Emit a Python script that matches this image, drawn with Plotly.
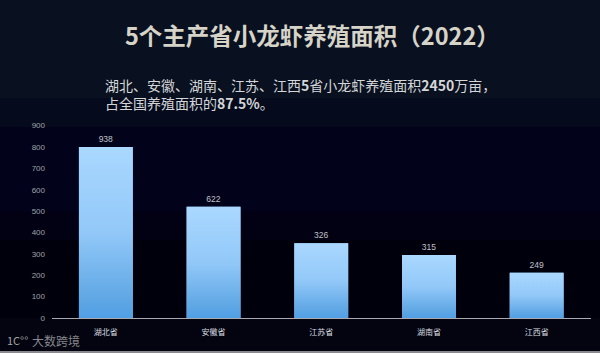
import plotly.graph_objects as go

W, H = 600, 353

provinces = ["湖北省", "安徽省", "江苏省", "湖南省", "江西省"]
bar_heights = [800, 520, 350, 295, 212]
printed_labels = ["938", "622", "326", "315", "249"]
y_ticks = [0, 100, 200, 300, 400, 500, 600, 700, 800, 900]

title_text = "5个主产省小龙虾养殖面积（2022）"
note_lines = ["湖北、安徽、湖南、江苏、江西<b>5</b>省小龙虾养殖面积<b>2450</b>万亩，",
              "占全国养殖面积的<b>87.5%</b>。"]
watermark = "大数跨境"
logo_text = "1C°°"

bg_bands = [
    (0.00, 0.28, "#09101f"), (0.28, 0.36, "#050b1d"), (0.36, 0.60, "#02031a"),
    (0.60, 0.68, "#010113"), (0.68, 0.90, "#00000c"), (0.90, 0.994, "#03040f"),
    (0.994, 1.00, "#8a8a8e"),
]

FONT = "Noto Sans CJK SC, Noto Sans, sans-serif"
NUM_FONT = "Liberation Sans, Arial, sans-serif"
X0, X1 = 52 / W, 590.5 / W
Y0, Y1 = 1 - 318 / H, 1 - 125.6 / H

fig = go.Figure()

# solid bar underneath, carrying the values and their printed labels
fig.add_trace(go.Bar(
    x=list(range(len(provinces))), y=bar_heights, width=0.5,
    marker=dict(color="#8fc6f5", line=dict(width=0)),
    text=printed_labels, textposition="outside", cliponaxis=False,
    textfont=dict(family=NUM_FONT, size=8.5, color="#c0c2c8"),
    hoverinfo="skip", showlegend=False,
))

# vertical gradient laid over each bar
for i, v in enumerate(bar_heights):
    fig.add_trace(go.Scatter(
        x=[i - 0.25, i + 0.25, i + 0.25, i - 0.25, i - 0.25],
        y=[0, 0, v, v, 0],
        mode="lines", line=dict(width=0), fill="toself",
        fillgradient=dict(
            type="vertical",
            colorscale=[[0, "#509fe6"], [0.1, "#5ea6e4"], [0.5, "#92c8f8"], [1, "#aad8ff"]],
        ),
        hoverinfo="skip", showlegend=False,
    ))

shapes = [
    dict(type="rect", xref="paper", yref="paper", x0=-0.2, x1=1.2,
         y0=1 - b, y1=1 - a, fillcolor=c, line_width=0, layer="below")
    for a, b, c in bg_bands
]

ann = [
    dict(text=f"<b>{title_text}</b>", x=312 / W, y=1 - 35 / H, xanchor="center", yanchor="middle",
         font=dict(family=FONT, size=23.5, color="#d6d3c8")),
    dict(text="<br>".join(note_lines), x=104 / W, y=1 - 94 / H, xanchor="left", yanchor="middle",
         font=dict(family=FONT, size=14, color="#d4d6d8")),
    dict(text=watermark, x=31 / W, y=1 - 340 / H, xanchor="left", yanchor="middle",
         font=dict(family=FONT, size=12, color="#85878c")),
    dict(text=logo_text, x=6 / W, y=1 - 340 / H, xanchor="left", yanchor="middle",
         font=dict(family=FONT, size=11, color="#a0a2a6")),
]
for a in ann:
    a.update(xref="paper", yref="paper", showarrow=False, xshift=0, yshift=0,
             borderpad=0, align="left")

fig.update_layout(
    width=W, height=H, autosize=False,
    margin=dict(l=0, r=0, t=0, b=0),
    paper_bgcolor="#02031a", plot_bgcolor="rgba(0,0,0,0)",
    font=dict(family=FONT),
    shapes=shapes, annotations=ann, showlegend=False, bargap=0.5,
    xaxis=dict(domain=[X0, X1], range=[-0.5, 4.5], tickmode="array", automargin=False,
               tickvals=list(range(len(provinces))), ticktext=provinces,
               showgrid=False, zeroline=False, showline=True, linecolor="#a8aab0",
               linewidth=1, ticks="", ticklen=0, ticklabelstandoff=6,
               tickfont=dict(family=FONT, size=8, color="#dcdee2")),
    yaxis=dict(domain=[Y0, Y1], range=[0, 900], tickmode="array", tickvals=y_ticks, automargin=False,
               showgrid=False, zeroline=False, showline=False, ticks="",
               ticklabelstandoff=6,
               tickfont=dict(family=NUM_FONT, size=8, color="#a0a2a8")),
)

fig.write_html("out.html", config={"displayModeBar": False},
               post_script="document.body.style.margin='0';document.body.style.overflow='hidden';")
